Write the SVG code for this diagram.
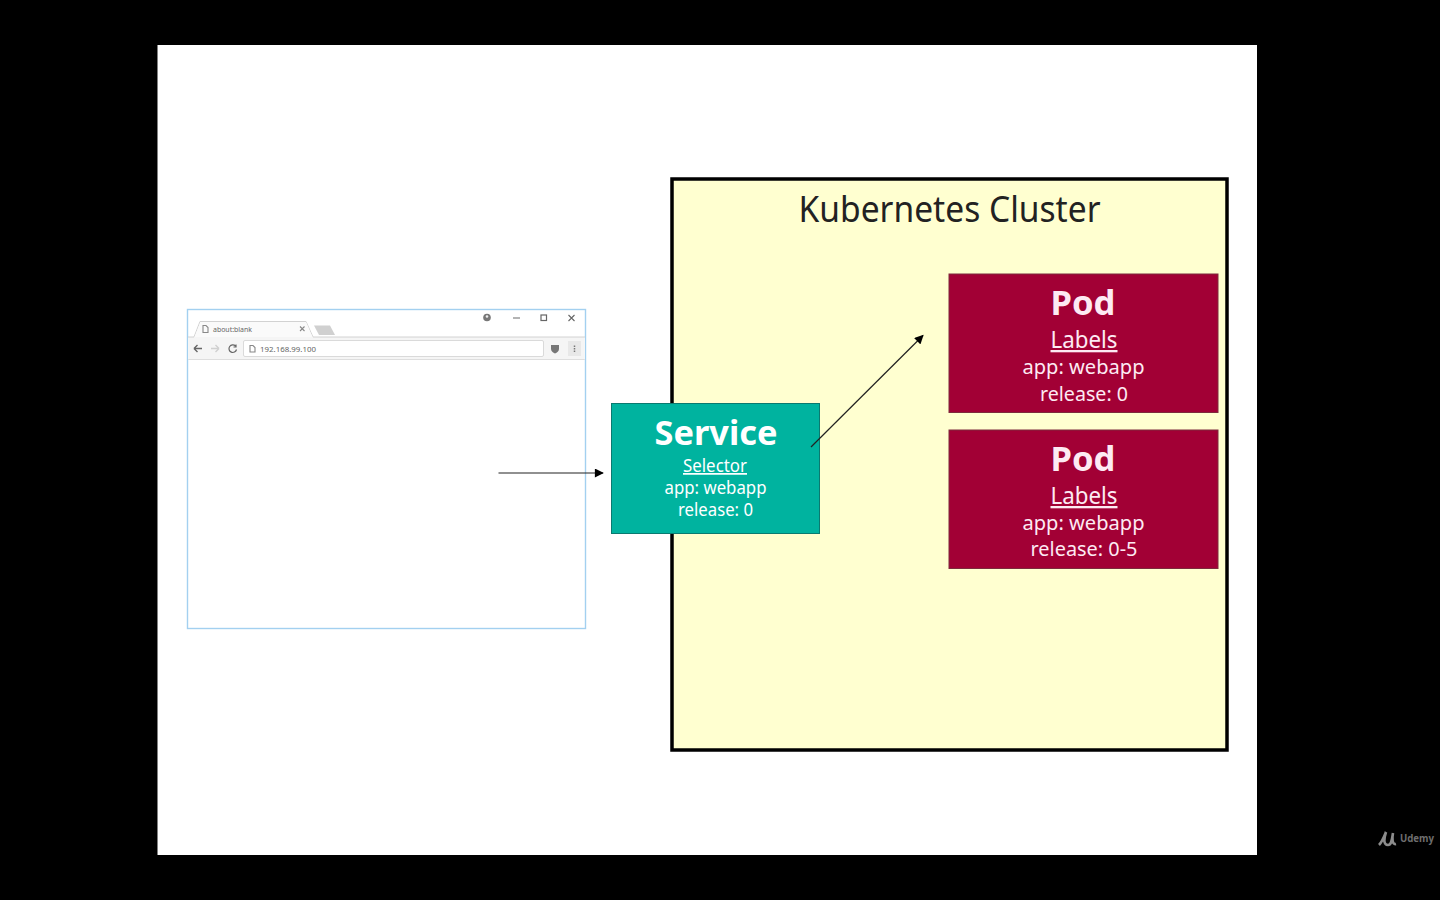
<svg xmlns="http://www.w3.org/2000/svg" width="1440" height="900" viewBox="0 0 1440 900">
<defs>
<marker id="arrow" viewBox="0 0 10 10" refX="9" refY="5" markerWidth="10" markerHeight="9" markerUnits="userSpaceOnUse" orient="auto"><path d="M0 0L10 5L0 10Z" fill="#000"/></marker>
</defs>
<style>
text{font-family:"Noto Sans","Open Sans","Liberation Sans",sans-serif;text-anchor:middle}
.w{fill:#fff;font-size:20px}
.p{fill:#fdeaf3}
.t{font-weight:700;font-size:34px}
.u{text-decoration:underline}
.pod{fill:#a20035;stroke:#7d2a3c;stroke-width:1}
.ic{fill:none;stroke:#888;stroke-width:1.100}
.sm{fill:#666;font-size:7px;text-anchor:start}
</style>
<rect width="1440" height="900" fill="#000"/>
<rect x="157.500" y="45" width="1099.500" height="810" fill="#fff"/>
<g id="browser">
<rect x="187.500" y="309.500" width="398" height="319" fill="#fff" stroke="#a3d0f0" stroke-width="1.400"/>
<rect x="188.200" y="337" width="396.600" height="23" fill="#f5f5f5"/>
<path d="M188 337H194L200 321.500H306L313 337H585" fill="none" stroke="#d2d2d2"/>
<path d="M194.500 337L200.500 322H306L312.500 337Z" fill="#fafafa"/>
<path d="M314 325.500H330L335 335H319Z" fill="#d0d0d0"/>
<path d="M188.200 359.500H584.800" stroke="#dedede"/>
<rect x="243.500" y="340.500" width="300" height="16" rx="1.500" fill="#fff" stroke="#dadada"/>
<path class="ic" d="M203 325.500H206L208 327.500V332.500H203Z"/>
<text class="sm" x="213" y="331.500" textLength="39" lengthAdjust="spacingAndGlyphs">about:blank</text>
<path class="ic" d="M300 326.500L304.500 331M304.500 326.500L300 331"/>
<path d="M194 348.500H202M194 348.500L197.500 345M194 348.500L197.500 352" fill="none" stroke="#666" stroke-width="1.400"/>
<path d="M211 348.500H219M219 348.500L215.500 345M219 348.500L215.500 352" fill="none" stroke="#d0d0d0" stroke-width="1.400"/>
<path d="M235.500 346A3.800 3.800 0 1 0 236.500 349.500M236 344.500V347H233.500" fill="none" stroke="#666" stroke-width="1.200"/>
<path class="ic" d="M250 345.500H253L255 347.500V352H250Z"/>
<text class="sm" x="260" y="351.500" textLength="56" lengthAdjust="spacingAndGlyphs">192.168.99.100</text>
<path d="M551 345H559V349C559 351 557 352.500 555 353.500C553 352.500 551 351 551 349Z" fill="#777"/>
<rect x="568" y="341" width="13" height="15" fill="#e8e8e8"/>
<path d="M574.500 345.500V352" stroke="#777" stroke-width="1.500" stroke-dasharray="1.500 1"/>
<circle cx="487" cy="317.500" r="3.800" fill="#777"/><circle cx="487" cy="316.500" r="1.300" fill="#eee"/>
<path d="M513 318H520" stroke="#777" stroke-width="1.100"/>
<rect x="541" y="315" width="5.500" height="5.500" fill="none" stroke="#666" stroke-width="1.200"/>
<path d="M568.500 315L574.500 321M574.500 315L568.500 321" stroke="#666" stroke-width="1.100"/>
</g>
<g id="cluster">
<rect x="672" y="179" width="555" height="571" fill="#ffffd0" stroke="#000" stroke-width="3.500"/>
<text x="949.500" y="222" fill="#222" font-size="36.500" textLength="302" lengthAdjust="spacingAndGlyphs">Kubernetes Cluster</text>
</g>
<g id="service">
<rect x="611.500" y="403.500" width="208" height="130" fill="#00b39f" stroke="#0a7a70"/>
<text class="w t" x="716" y="445" textLength="123" lengthAdjust="spacingAndGlyphs">Service</text>
<text class="w u" x="715" y="472" textLength="64" lengthAdjust="spacingAndGlyphs" style="font-size:17.500px">Selector</text>
<text class="w" x="715.500" y="494" style="font-size:17.500px" textLength="102" lengthAdjust="spacingAndGlyphs">app: webapp</text>
<text class="w" x="715.500" y="516" style="font-size:17.500px" textLength="75" lengthAdjust="spacingAndGlyphs">release: 0</text>
</g>
<g id="pod-1">
<rect class="pod" x="949" y="274" width="269" height="138.500"/>
<text class="w p t" x="1083" y="315" textLength="65" lengthAdjust="spacingAndGlyphs">Pod</text>
<text class="w p u" x="1084" y="348" style="font-size:23px" textLength="67" lengthAdjust="spacingAndGlyphs">Labels</text>
<text class="w p" x="1083.500" y="374" style="font-size:20px" textLength="122" lengthAdjust="spacingAndGlyphs">app: webapp</text>
<text class="w p" x="1084" y="400.500" style="font-size:20px" textLength="88" lengthAdjust="spacingAndGlyphs">release: 0</text>
</g>
<g id="pod-2">
<rect class="pod" x="949" y="430" width="269" height="138.500"/>
<text class="w p t" x="1083" y="471" textLength="65" lengthAdjust="spacingAndGlyphs">Pod</text>
<text class="w p u" x="1084" y="504" style="font-size:23px" textLength="67" lengthAdjust="spacingAndGlyphs">Labels</text>
<text class="w p" x="1083.500" y="530" style="font-size:20px" textLength="122" lengthAdjust="spacingAndGlyphs">app: webapp</text>
<text class="w p" x="1084" y="556" style="font-size:20px" textLength="107" lengthAdjust="spacingAndGlyphs">release: 0-5</text>
</g>
<g id="connectors" fill="none" stroke="#222" stroke-width="1.200">
<path d="M498.500 473H603" marker-end="url(#arrow)"/>
<path d="M811 447L923 335.500" marker-end="url(#arrow)"/>
</g>
<g id="watermark">
<path d="M1379 845C1382 842 1384 837 1386 832C1384 838 1383 845 1388 845C1392 845 1392 838 1393 833C1392 838 1392 845 1396 844" fill="none" stroke="#8c8c8c" stroke-width="2.600"/>
<text x="1417" y="842" fill="#6e6e6e" font-size="10.500" font-weight="700" textLength="34" lengthAdjust="spacingAndGlyphs">Udemy</text>
</g>
</svg>
